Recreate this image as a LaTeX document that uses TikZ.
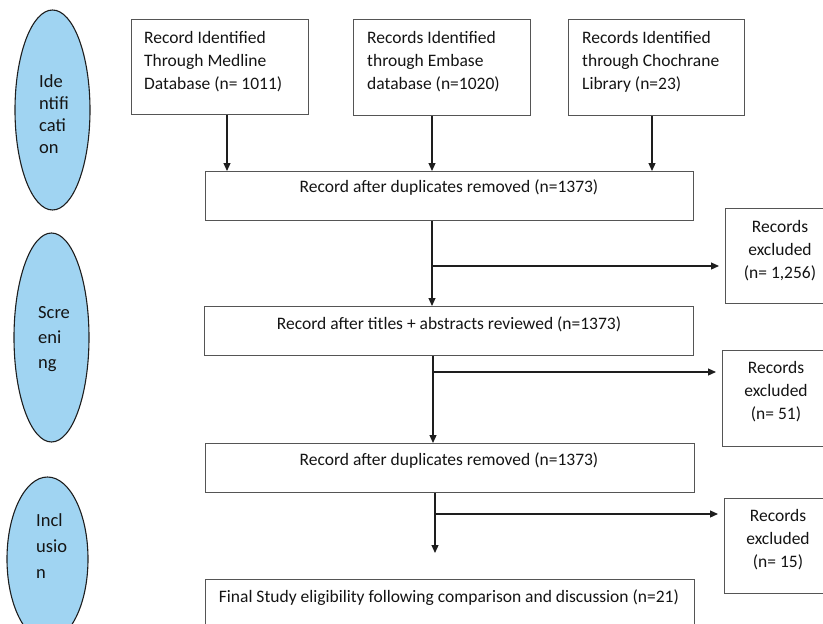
\documentclass[tikz,border=0pt]{standalone}
\usepackage{fontspec}
\setmainfont{Carlito}
\usetikzlibrary{shapes.geometric,arrows.meta}
\definecolor{phasefill}{RGB}{160,212,242}
\definecolor{linecol}{RGB}{30,30,30}
\definecolor{boxcol}{RGB}{85,85,85}
\definecolor{textcol}{RGB}{20,20,20}
\tikzset{
  phase/.style={ellipse,draw=linecol,fill=phasefill,line width=1.1pt,inner sep=0pt},
  box/.style={rectangle,draw=boxcol,line width=1.2pt,inner sep=0pt},
  txt/.style={inner sep=0pt,text=textcol,font=\fontsize{17.5}{23}\selectfont},
  ptxt/.style={inner sep=0pt,text=textcol,align=left,anchor=west},
  arr/.style={draw=linecol,line width=1.2pt,-{Triangle[length=8pt,width=7pt]}}
}
\begin{document}
\begin{tikzpicture}[x=1pt,y=-1pt]
\useasboundingbox (0,0) rectangle (823,624);
\clip (0,0) rectangle (823,624);
% phase ellipses
\node[phase,minimum width=75,minimum height=200] (p1) at (52.5,110) {};
\node[ptxt,font=\fontsize{18.5}{22}\selectfont] (p1t) at (39,114) {Ide\\ntifi\\cati\\on};
\node[phase,minimum width=75,minimum height=209] (p2) at (51.5,337.5) {};
\node[ptxt,font=\fontsize{18.5}{25}\selectfont] (p2t) at (38,339) {Scre\\eni\\ng};
\node[phase,minimum width=81,minimum height=164] (p3) at (47.5,559) {};
\node[ptxt,font=\fontsize{18.5}{26}\selectfont] (p3t) at (36,546) {Incl\\usio\\n};
% source boxes
\node[box,minimum width=177,minimum height=95,anchor=north west] (med) at (131,19) {};
\node[txt,align=left,anchor=north west] (medt) at (144,31) {Record Identified\\Through Medline\\Database (n= 1011)};
\node[box,minimum width=177,minimum height=96,anchor=north west] (emb) at (353,19) {};
\node[txt,align=left,anchor=north west] (embt) at (367,31) {Records Identified\\through Embase\\database (n=1020)};
\node[box,minimum width=176,minimum height=96,anchor=north west] (coc) at (568,19) {};
\node[txt,align=left,anchor=north west] (coct) at (582,31) {Records Identified\\through Chochrane\\Library (n=23)};
% main boxes
\node[box,minimum width=488,minimum height=49,anchor=north west] (b1) at (205,171) {};
\node[txt] (b1t) at (449,188) {Record after duplicates removed (n=1373)};
\node[box,minimum width=489,minimum height=49,anchor=north west] (b2) at (204,306) {};
\node[txt] (b2t) at (449,324) {Record after titles + abstracts reviewed (n=1373)};
\node[box,minimum width=489,minimum height=49,anchor=north west] (b3) at (205,443) {};
\node[txt] (b3t) at (449,461) {Record after duplicates removed (n=1373)};
\node[box,minimum width=489,minimum height=60,anchor=north west] (b4) at (205,579) {};
\node[txt] (b4t) at (449,598) {Final Study eligibility following comparison and discussion (n=21)};
% excluded boxes
\node[box,minimum width=110,minimum height=95,anchor=north west] (x1) at (725,208) {};
\node[txt,align=center] (x1t) at (780,251) {Records\\excluded\\(n= 1,256)};
\node[box,minimum width=110,minimum height=96,anchor=north west] (x2) at (722,350) {};
\node[txt,align=center] (x2t) at (776,392) {Records\\excluded\\(n= 51)};
\node[box,minimum width=110,minimum height=95,anchor=north west] (x3) at (724,498) {};
\node[txt,align=center] (x3t) at (778,540) {Records\\excluded\\(n= 15)};
% connector coordinates
\coordinate (c1) at (227,0);
\coordinate (c2) at (432,0);
\coordinate (c3) at (652,0);
\coordinate (j1) at (432,266);
\coordinate (j2) at (433,372);
\coordinate (j3) at (435,514);
\coordinate (e4) at (435,553);
% connectors
\draw[arr] (med.south -| c1) -- (b1.north -| c1);
\draw[arr] (emb.south -| c2) -- (b1.north -| c2);
\draw[arr] (coc.south -| c3) -- (b1.north -| c3);
\draw[arr] (b1.south -| j1) -- (b2.north -| j1);
\draw[arr,shorten >=6pt] (j1) -- (x1.west |- j1);
\draw[arr] (b2.south -| j2) -- (b3.north -| j2);
\draw[arr,shorten >=6pt] (j2) -- (x2.west |- j2);
\draw[arr] (b3.south -| j3) -- (e4);
\draw[arr,shorten >=6pt] (j3) -- (x3.west |- j3);
\end{tikzpicture}
\end{document}
